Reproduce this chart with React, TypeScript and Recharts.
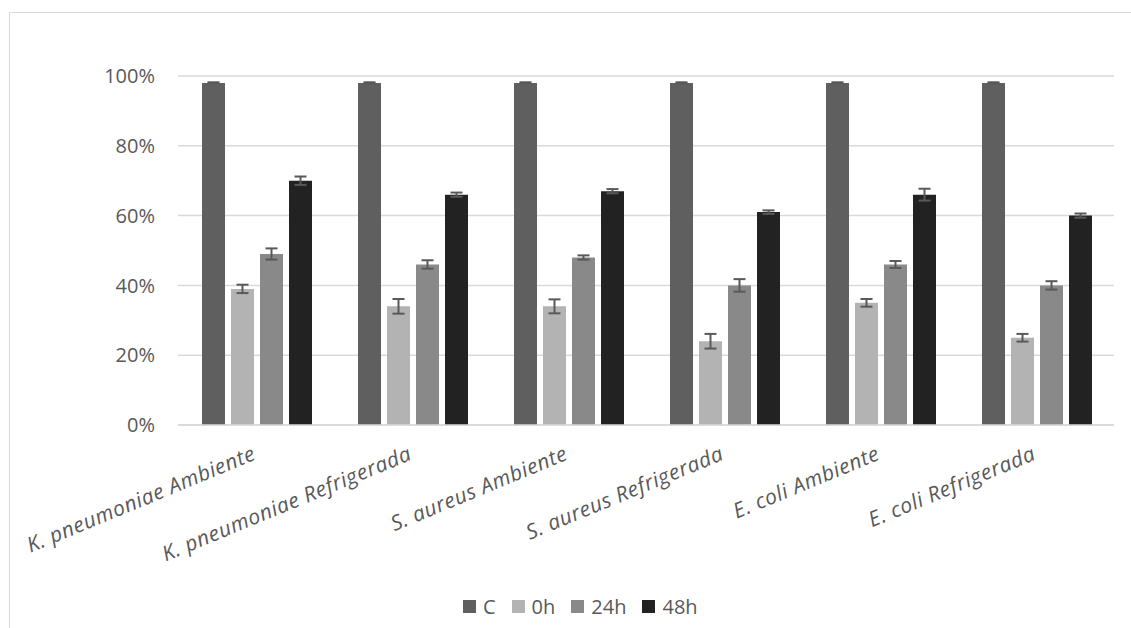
import { BarChart, Bar, XAxis, YAxis, CartesianGrid, Legend, ErrorBar } from 'recharts';

const categories = [
  'K. pneumoniae Ambiente',
  'K. pneumoniae Refrigerada',
  'S. aureus Ambiente',
  'S. aureus Refrigerada',
  'E. coli Ambiente',
  'E. coli Refrigerada',
];

const valuesC = [98, 98, 98, 98, 98, 98];
const values0h = [39, 34, 34, 24, 35, 25];
const values24h = [49, 46, 48, 40, 46, 40];
const values48h = [70, 66, 67, 61, 66, 60];

const errC = [0.2, 0.2, 0.2, 0.2, 0.2, 0.2];
const err0h = [1.2, 2.1, 2, 2.1, 1.1, 1.1];
const err24h = [1.6, 1.2, 0.6, 1.8, 1, 1.2];
const err48h = [1.2, 0.6, 0.6, 0.5, 1.7, 0.6];

const yTicks = [0, 20, 40, 60, 80, 100];

const SERIES = [
  { key: 'C', name: 'C', color: '#5f5f5f' },
  { key: 'h0', name: '0h', color: '#b3b3b3' },
  { key: 'h24', name: '24h', color: '#898989' },
  { key: 'h48', name: '48h', color: '#222222' },
];

const data = categories.map((name, i) => ({
  name,
  C: valuesC[i],
  h0: values0h[i],
  h24: values24h[i],
  h48: values48h[i],
  eC: errC[i],
  e0: err0h[i],
  e24: err24h[i],
  e48: err48h[i],
}));

const errKeys: Record<string, string> = { C: 'eC', h0: 'e0', h24: 'e24', h48: 'e48' };

const FONT = '"Open Sans", "Noto Sans", sans-serif';
const TEXT = '#595959';

const XTick = ({ x, y, payload }: { x?: number; y?: number; payload?: { value: string } }) => (
  <g transform={`translate(${(x ?? 0) + 1},${(y ?? 0) + 26}) rotate(-22.5)`}>
    <text x={0} y={0} textAnchor="end" fontStyle="italic" fontSize={21} letterSpacing={0.6} fill={TEXT} fontFamily={FONT}>
      {payload?.value}
    </text>
  </g>
);

const LegendContent = () => (
  <div style={{ display: 'flex', alignItems: 'center', fontFamily: FONT, fontSize: 20, color: TEXT }}>
    {SERIES.map((s) => (
      <div key={s.key} style={{ display: 'flex', alignItems: 'center', marginRight: 16 }}>
        <span style={{ display: 'inline-block', width: 13, height: 13, background: s.color, marginRight: 7 }} />
        <span>{s.name}</span>
      </div>
    ))}
  </div>
);

export default function App() {
  return (
    <div style={{ position: 'absolute', left: 0, top: 0, width: 1131, height: 628, overflow: 'hidden', background: '#fff' }}>
      <div
        style={{
          position: 'absolute',
          left: 9,
          top: 12,
          width: 1200,
          height: 700,
          border: '1px solid #d9d9d9',
        }}
      />
      <div style={{ position: 'absolute', left: 0, top: 0 }}>
        <BarChart
          width={1131}
          height={628}
          data={data}
          margin={{ top: 76, right: 17, bottom: 0, left: 0 }}
          barCategoryGap={24}
          barGap={6}
        >
          <CartesianGrid vertical={false} stroke="#d9d9d9" strokeWidth={1.5} />
          <XAxis
            dataKey="name"
            height={203}
            interval={0}
            tickLine={false}
            axisLine={{ stroke: '#d9d9d9', strokeWidth: 1.5 }}
            tick={<XTick />}
          />
          <YAxis
            width={178}
            domain={[0, 100]}
            ticks={yTicks}
            tickFormatter={(v) => `${v}%`}
            axisLine={false}
            tickLine={false}
            tickMargin={17}
            tick={{ fill: TEXT, fontSize: 20, fontFamily: FONT }}
          />
          <Legend
            layout="horizontal"
            verticalAlign="middle"
            align="center"
            wrapperStyle={{ top: 593, left: 463, width: 320 }}
            content={<LegendContent />}
          />
          {SERIES.map((s) => (
            <Bar key={s.key} dataKey={s.key} name={s.name} fill={s.color} isAnimationActive={false}>
              <ErrorBar dataKey={errKeys[s.key]} width={6} strokeWidth={2} stroke="#595959" direction="y" />
            </Bar>
          ))}
        </BarChart>
      </div>
    </div>
  );
}
